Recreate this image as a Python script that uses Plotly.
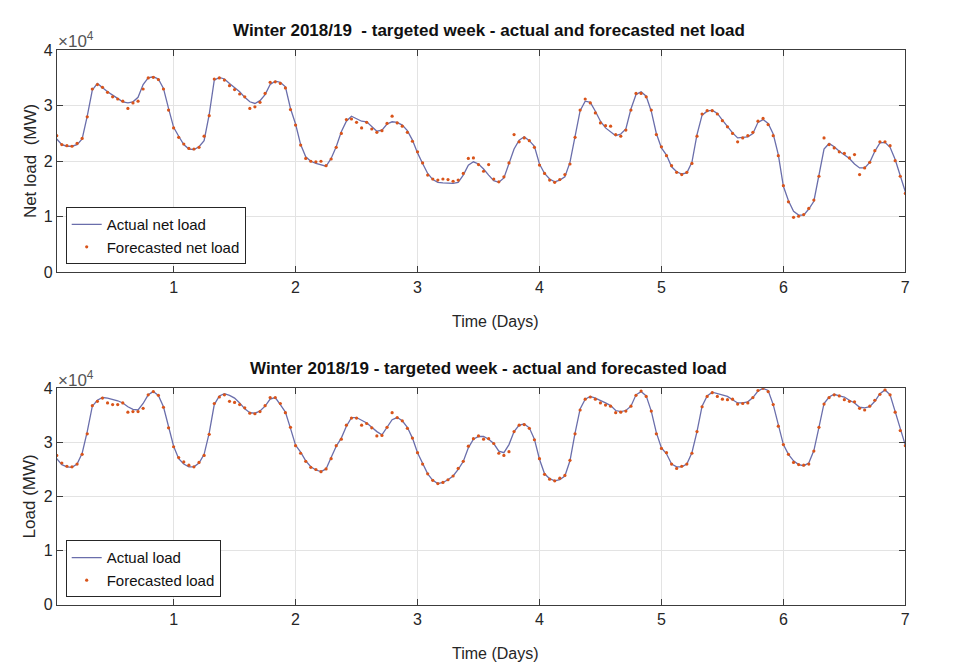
import plotly.graph_objects as go

# ---------------- data (hourly, MW) ----------------
hours = list(range(1, 169))  # hour index of the targeted week

net_actual = [
    24000, 23000, 22700, 22700, 23000, 24000, 28100, 32800, 34000, 33200, 32500, 31900,
    31300, 30700, 30500, 30700, 31500, 33800, 35000, 35200, 34800, 33100, 29500, 26100,
    24500, 23000, 22200, 22100, 22600, 23700, 28400, 34600, 35100, 34800, 34000, 33200,
    32500, 31500, 30700, 30400, 30900, 32000, 33800, 34400, 34200, 33400, 29500, 26700,
    23000, 20800, 20000, 19600, 19300, 19100, 20500, 22600, 25300, 27200, 28100, 27600,
    27200, 27100, 26300, 25400, 25600, 26700, 27100, 27000, 26500, 25500, 23800, 21500,
    19600, 17800, 16700, 16200, 16100, 16100, 16000, 16200, 17500, 19300, 19900, 19500,
    18600, 17500, 16500, 16200, 17000, 19600, 22200, 23800, 24400, 23700, 22700, 19500,
    17800, 16800, 16300, 16600, 17200, 19800, 24500, 29100, 30800, 30600, 29000, 27200,
    26000, 25300, 24600, 24900, 25800, 29400, 32000, 32500, 31700, 29000, 25000, 22400,
    21100, 19000, 18100, 17700, 17900, 19800, 24800, 28300, 29000, 29200, 28600, 27400,
    26200, 25100, 24200, 24300, 24400, 25000, 27000, 27500, 26800, 24900, 21200, 15500,
    12900, 11000, 10300, 10300, 11400, 12800, 17500, 22200, 23200, 22600, 21800, 21200,
    20500, 19500, 18800, 18800, 19800, 21800, 23300, 23400, 22500, 20300, 17500, 14500,
]

net_forecast = [
    24600, 23000, 22800, 22700, 23200, 24100, 28000, 33000, 33800, 33300, 32400, 31600,
    31200, 30800, 29500, 30500, 30800, 33000, 35000, 35100, 34700, 33000, 29200, 26000,
    24300, 23100, 22300, 22200, 22500, 24500, 28200, 34800, 35000, 34600, 33600, 32900,
    32100, 31600, 29500, 29800, 30600, 32200, 34200, 34300, 34000, 33200, 29300, 26500,
    22900, 20500, 20000, 19900, 20000, 19200, 20400, 22500, 25000, 27500, 27600, 27000,
    26000, 27000, 25800, 25200, 25500, 26800, 28100, 26900, 26300, 25200, 23600, 21700,
    19700, 17500, 16800, 16600, 16800, 16700, 16400, 16600, 17800, 20500, 20600, 19400,
    18200, 19400, 16800, 16300, 17200, 19700, 24800, 23500, 24200, 23700, 22500, 19300,
    17800, 16600, 16200, 16700, 17600, 19500, 24300, 29200, 31200, 30500, 28700, 26900,
    26400, 26300, 24800, 24500, 25600, 29200, 32200, 32200, 31600, 29200, 24800, 22600,
    21000, 19200, 18000, 17600, 18000, 19600, 24500, 28500, 29100, 29100, 28500, 27300,
    26200, 25000, 23500, 24200, 24600, 25200, 27200, 27700, 26600, 24600, 21000, 15600,
    12700, 9900, 10100, 10400, 11500, 13000, 17300, 24200, 23000, 22400, 21700, 21400,
    20600, 21200, 17600, 18800, 19800, 21900, 23500, 23500, 22800, 20100, 17300, 14200,
]

load_actual = [
    27000, 25900, 25500, 25400, 26000, 28000, 32000, 36700, 37800, 38300, 38200, 38000,
    37700, 37300, 36600, 36100, 36000, 37200, 38800, 39400, 38700, 36600, 32800, 29300,
    27000, 26000, 25500, 25500, 26200, 27800, 31700, 37000, 38600, 39000, 38700, 38200,
    37300, 36200, 35500, 35400, 35800, 36700, 38000, 38300, 37000, 35600, 32600, 29500,
    28200, 26600, 25500, 24900, 24600, 25100, 27200, 29300, 30800, 33000, 34600, 34600,
    34100, 33600, 32800, 32000, 31400, 32800, 34200, 34600, 34000, 32800, 30800, 28100,
    26000, 24200, 23000, 22400, 22600, 23100, 23800, 25000, 26500, 29000, 30600, 31100,
    31100, 30600, 29800, 28400, 28100, 29600, 32000, 33200, 33400, 32700, 30600, 26900,
    24200, 23300, 22900, 23100, 23800, 26600, 31700, 36200, 38000, 38500, 38200, 37800,
    37300, 36800, 35900, 35700, 35900, 36700, 38800, 39400, 38600, 35800, 31800, 29000,
    27900, 26000, 25500, 25500, 26000, 28100, 32000, 36700, 38600, 39300, 39000, 38800,
    38500, 37900, 37300, 37300, 37500, 38300, 39500, 40000, 39600, 37000, 33000, 29600,
    27800, 26600, 25900, 25700, 26200, 28500, 32800, 37200, 38400, 38900, 38600, 38400,
    37800, 37300, 36500, 36400, 36600, 37600, 39000, 39700, 38800, 35600, 32500, 29500,
]

load_forecast = [
    27600, 26200, 25600, 25500, 26000, 27800, 31600, 36800, 37600, 38200, 37300, 37000,
    37000, 37300, 35600, 35700, 35700, 36300, 38800, 39400, 38700, 36500, 32700, 29200,
    27200, 26400, 25800, 25500, 26300, 27600, 31500, 37200, 38400, 38800, 37600, 37400,
    37000, 36400, 35400, 35300, 35700, 36800, 38300, 38300, 37200, 35500, 32800, 29400,
    28000, 26500, 25400, 25000, 24600, 25100, 27000, 29400, 30600, 33200, 34500, 34500,
    33200, 33500, 32700, 31200, 31300, 32800, 35500, 34600, 34000, 32600, 30800, 28100,
    26000, 24200, 23000, 22400, 22600, 23100, 23800, 25200, 26500, 29300, 30700, 31200,
    30600, 30700, 29800, 28000, 27600, 28300, 32000, 33200, 33300, 32600, 30500, 27000,
    24100, 23200, 22900, 23400, 23900, 26700, 31600, 36000, 38000, 38400, 38000, 37300,
    36900, 36700, 35500, 35600, 35800, 36700, 38700, 39500, 38500, 35800, 31600, 28900,
    28100, 26000, 25200, 25600, 26000, 28000, 32000, 36600, 38500, 39200, 38500, 38000,
    37900, 38000, 37100, 37200, 37300, 38300, 39600, 40000, 39400, 37000, 33000, 29600,
    27800, 26300, 25900, 25800, 26000, 28400, 32800, 37100, 38300, 38800, 38600, 37900,
    37600, 37500, 36300, 36000, 36700, 37800, 38900, 39700, 38800, 35600, 32200, 29400,
]

days = [h / 24 for h in hours]
x_ticks = [1, 2, 3, 4, 5, 6, 7]
y_ticks = [0, 10000, 20000, 30000, 40000]
y_tick_labels = ["0", "1", "2", "3", "4"]

titles = ["Winter 2018/19  - targeted week - actual and forecasted net load",
          "Winter 2018/19 - targeted week - actual and forecasted load"]
y_titles = ["Net load  (MW)", "Load (MW)"]
x_title = "Time (Days)"

# ---------------- styling ----------------
W, H = 966, 672
FONT = "Liberation Sans, Arial, sans-serif"
LINE_COL = "#6a6eab"
DOT_COL = "#d9541a"
AX_COL = "#3c3c3c"
GRID_COL = "#e3e3e3"

def px_x(p):
    return p / W

def px_y(p):
    return 1 - p / H

top_dom = [px_y(263), px_y(35)]
bot_dom = [px_y(604), px_y(382)]
x_dom = [px_x(49), px_x(902)]

fig = go.Figure()

fig.add_trace(go.Scatter(x=days, y=net_actual, mode="lines", name="Actual net load",
                         line=dict(color=LINE_COL, width=1.3), xaxis="x", yaxis="y",
                         legend="legend"))
fig.add_trace(go.Scatter(x=days, y=net_forecast, mode="markers", name="Forecasted net load",
                         marker=dict(color=DOT_COL, size=3.2), xaxis="x", yaxis="y",
                         legend="legend"))
fig.add_trace(go.Scatter(x=days, y=load_actual, mode="lines", name="Actual load",
                         line=dict(color=LINE_COL, width=1.3), xaxis="x2", yaxis="y2",
                         legend="legend2"))
fig.add_trace(go.Scatter(x=days, y=load_forecast, mode="markers", name="Forecasted load",
                         marker=dict(color=DOT_COL, size=3.2), xaxis="x2", yaxis="y2",
                         legend="legend2"))

axis_common = dict(showline=True, linecolor=AX_COL, linewidth=1, mirror="ticks",
                   ticks="inside", ticklen=6, tickcolor=AX_COL, showgrid=True,
                   gridcolor=GRID_COL, gridwidth=1, zeroline=False,
                   tickfont=dict(family=FONT, size=16, color="#262626"))

xa = dict(axis_common, range=[1 / 24, 7], tickvals=x_ticks, domain=x_dom)
ya = dict(axis_common, range=[0, 40000], tickvals=y_ticks, ticktext=y_tick_labels)

legend_common = dict(bgcolor="white", bordercolor="#262626", borderwidth=1,
                     font=dict(family=FONT, size=15, color="#111111"),
                     xanchor="left", yanchor="top", tracegroupgap=0,
                     itemwidth=30)

fig.update_layout(
    width=W, height=H, margin=dict(l=0, r=0, t=0, b=0),
    paper_bgcolor="white", plot_bgcolor="white",
    xaxis=dict(xa, anchor="y"),
    yaxis=dict(ya, domain=top_dom, anchor="x"),
    xaxis2=dict(xa, anchor="y2"),
    yaxis2=dict(ya, domain=bot_dom, anchor="x2"),
    legend=dict(legend_common, x=px_x(58), y=px_y(196)),
    legend2=dict(legend_common, x=px_x(58), y=px_y(538)),
    showlegend=True,
)

ann = []
for title, ytitle, ytop, ybot in [(titles[0], y_titles[0], 35, 263), (titles[1], y_titles[1], 382, 604)]:
    ann.append(dict(text="<b>" + title + "</b>", x=px_x(483), y=px_y(ytop - 20), xref="paper",
                    yref="paper", showarrow=False, xanchor="center", yanchor="middle",
                    font=dict(family=FONT, size=17, color="#111111")))
    ann.append(dict(text=ytitle, x=px_x(22), y=px_y((ytop + ybot) / 2), xref="paper",
                    yref="paper", showarrow=False, textangle=-90, xanchor="center",
                    yanchor="middle", font=dict(family=FONT, size=17, color="#262626")))
    ann.append(dict(text=x_title, x=px_x(490), y=px_y(ybot + 50), xref="paper",
                    yref="paper", showarrow=False, xanchor="center", yanchor="middle",
                    font=dict(family=FONT, size=16, color="#262626")))
    ann.append(dict(text="×10<sup>4</sup>", x=px_x(48), y=px_y(ytop - 10), xref="paper",
                    yref="paper", showarrow=False, xanchor="left", yanchor="middle",
                    font=dict(family=FONT, size=17, color="#555555")))
fig.update_layout(annotations=ann)

fig.write_html("out.html")
